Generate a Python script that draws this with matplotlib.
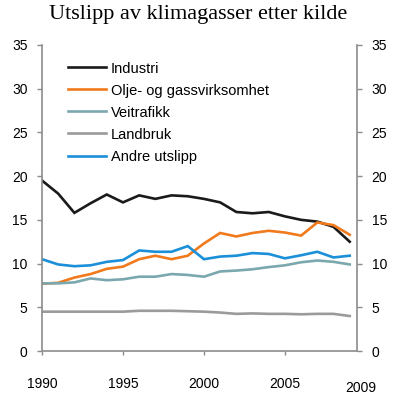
import matplotlib
matplotlib.use("Agg")
import matplotlib.pyplot as plt
import numpy as np

years = list(range(1990, 2010))
industri = [19.5, 18.0, 15.8, 16.9, 17.9, 17.0, 17.8, 17.4, 17.8, 17.7, 17.4, 17.0, 15.9, 15.75, 15.9, 15.4, 15.0, 14.8, 14.2, 12.5]
olje = [7.7, 7.8, 8.4, 8.8, 9.4, 9.65, 10.5, 10.9, 10.5, 10.9, 12.3, 13.5, 13.1, 13.5, 13.75, 13.55, 13.2, 14.7, 14.4, 13.3]
veitrafikk = [7.74, 7.74, 7.85, 8.3, 8.1, 8.2, 8.5, 8.5, 8.8, 8.7, 8.5, 9.1, 9.2, 9.35, 9.6, 9.8, 10.15, 10.35, 10.2, 9.9]
landbruk = [4.5, 4.5, 4.5, 4.5, 4.5, 4.5, 4.6, 4.6, 4.6, 4.55, 4.5, 4.4, 4.25, 4.3, 4.25, 4.25, 4.2, 4.25, 4.25, 4.0]
andre = [10.5, 9.9, 9.7, 9.8, 10.2, 10.4, 11.5, 11.35, 11.35, 12.0, 10.5, 10.8, 10.9, 11.2, 11.1, 10.6, 10.95, 11.35, 10.7, 10.9]

series_names = ["Industri", "Olje- og gassvirksomhet", "Veitrafikk", "Landbruk", "Andre utslipp"]
series_vals = [industri, olje, veitrafikk, landbruk, andre]
colors = ["#1a1a1a", "#f07a1c", "#7ba8ae", "#9b9b9b", "#1b8fd8"]

xticks = [1990, 1995, 2000, 2005]
xticklabels = ["1990", "1995", "2000", "2005"]
last_label = "2009"
yticks = [0, 5, 10, 15, 20, 25, 30, 35]
title = "Utslipp av klimagasser etter kilde"

plt.rcParams['font.family'] = ['Liberation Sans', 'DejaVu Sans']

fig = plt.figure(figsize=(4.0, 3.96), dpi=100)
ax = fig.add_axes([0.105, 0.1136, 0.7875, 0.7728])

for name, vals, c in zip(series_names, series_vals, colors):
    ax.plot(years, vals, color=c, lw=1.9, label=name, solid_joinstyle='miter')

ax.set_xlim(1990, 2009.45)
ax.set_ylim(0, 35)
ax.set_yticks(yticks)
ax.set_xticks(xticks)
ax.set_xticklabels(xticklabels)

spine_col = "#8c8c8c"
for s in ["left", "right", "bottom"]:
    ax.spines[s].set_color(spine_col)
    ax.spines[s].set_linewidth(1.2)
ax.spines["top"].set_visible(False)

ax.tick_params(axis='y', direction='out', length=3.5, width=1.0, color=spine_col,
               labelsize=10, pad=7, left=True, right=True, labelleft=True, labelright=True)
ax.tick_params(axis='x', direction='out', length=3, width=1.0, color=spine_col,
               labelsize=10, pad=16)

ax.text(2009.7, -0.12, last_label, transform=ax.get_xaxis_transform(),
        ha='center', va='center', fontsize=10)

leg = ax.legend(loc='upper left', bbox_to_anchor=(0.065, 0.965), frameon=False,
                fontsize=10.5, handlelength=2.6, handletextpad=0.3,
                labelspacing=0.55, borderaxespad=0)

fig.text(0.495, 0.953, title, ha='center', va='baseline', fontsize=16,
         family=['Liberation Serif', 'DejaVu Serif'])

fig.savefig("out.png", dpi=100)
